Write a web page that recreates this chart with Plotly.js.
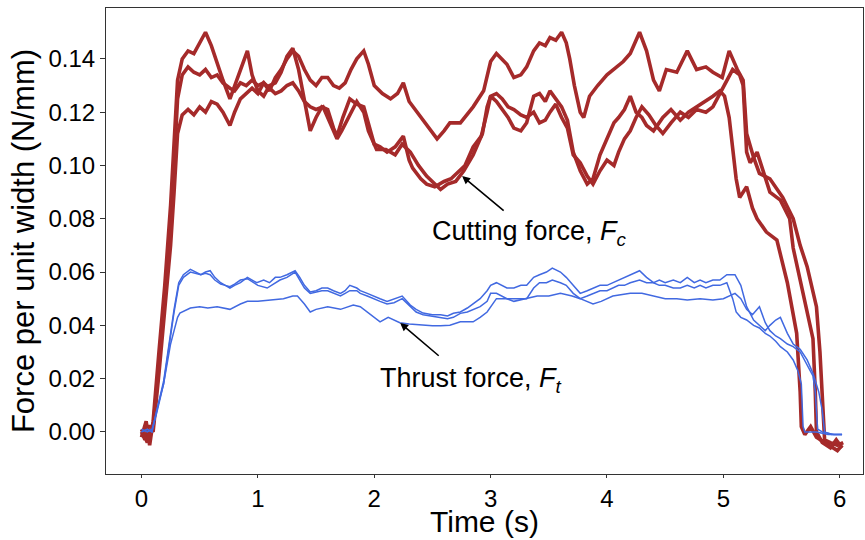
<!DOCTYPE html>
<html>
<head>
<meta charset="utf-8">
<script src="https://cdn.plot.ly/plotly-3.0.1.min.js"></script>
<style>html,body{margin:0;padding:0;background:#fff;}#chart{width:865px;height:540px;}</style>
</head>
<body>
<div id="chart"></div>
<script>
// ---- Cutting force traces (N/mm) ----
const tR1 = [0,0.03,0.06,0.1,0.15,0.2,0.25,0.28,0.31,0.35,0.4,0.45,0.5,0.55,0.6,0.65,0.7,0.76,0.8,0.85,0.9,0.95,1.0,1.05,1.1,1.15,1.2,1.25,1.3,1.35,1.4,1.45,1.5,1.55,1.6,1.65,1.7,1.75,1.8,1.85,1.91,1.95,2.0,2.07,2.14,2.2,2.25,2.3,2.37,2.45,2.54,2.6,2.65,2.74,2.8,2.85,2.94,3.0,3.05,3.1,3.14,3.2,3.26,3.31,3.37,3.42,3.47,3.51,3.56,3.61,3.65,3.68,3.72,3.77,3.8,3.85,3.92,4.0,4.08,4.14,4.2,4.28,4.34,4.4,4.45,4.51,4.6,4.69,4.77,4.85,4.91,4.99,5.05,5.12,5.17,5.2,5.26,5.31,5.4,5.51,5.6,5.66,5.72,5.8,5.83,5.85,5.87,5.92,5.98,6.03];
const vR1 = [0.000,-0.003,0.002,0.002,0.025,0.050,0.078,0.100,0.125,0.134,0.137,0.135,0.134,0.136,0.133,0.134,0.131,0.129,0.128,0.131,0.130,0.132,0.130,0.131,0.128,0.133,0.136,0.140,0.143,0.141,0.136,0.132,0.130,0.133,0.133,0.130,0.129,0.131,0.136,0.140,0.143,0.138,0.130,0.127,0.125,0.127,0.131,0.124,0.120,0.115,0.110,0.113,0.116,0.116,0.119,0.122,0.128,0.139,0.142,0.140,0.138,0.133,0.134,0.137,0.143,0.146,0.145,0.148,0.147,0.150,0.146,0.140,0.130,0.120,0.118,0.126,0.130,0.134,0.137,0.139,0.142,0.150,0.143,0.132,0.128,0.136,0.135,0.143,0.136,0.137,0.135,0.133,0.143,0.136,0.132,0.112,0.103,0.097,0.095,0.088,0.080,0.070,0.062,0.047,0.030,0.010,-0.003,-0.004,-0.005,-0.004];

const tR2 = [0,0.04,0.07,0.1,0.15,0.2,0.25,0.28,0.31,0.35,0.4,0.45,0.5,0.55,0.6,0.65,0.7,0.76,0.8,0.85,0.91,0.95,1.0,1.05,1.1,1.15,1.2,1.25,1.3,1.35,1.4,1.45,1.5,1.55,1.6,1.65,1.68,1.73,1.79,1.85,1.91,1.95,2.0,2.05,2.11,2.18,2.25,2.3,2.33,2.4,2.45,2.52,2.6,2.66,2.71,2.78,2.85,2.92,2.97,3.0,3.05,3.1,3.15,3.2,3.26,3.31,3.37,3.42,3.47,3.51,3.56,3.61,3.66,3.71,3.77,3.83,3.88,3.94,4.0,4.06,4.1,4.15,4.2,4.25,4.3,4.34,4.4,4.48,4.55,4.63,4.7,4.77,4.85,4.91,4.97,5.01,5.05,5.08,5.11,5.14,5.2,5.25,5.29,5.37,5.46,5.55,5.63,5.66,5.67,5.7,5.75,5.8,5.9,5.98,6.02];
const vR2 = [-0.002,0.004,-0.005,0.004,0.030,0.055,0.085,0.110,0.132,0.140,0.143,0.142,0.146,0.150,0.145,0.138,0.132,0.125,0.130,0.136,0.143,0.134,0.128,0.126,0.130,0.131,0.135,0.141,0.144,0.136,0.125,0.113,0.118,0.122,0.121,0.114,0.111,0.118,0.125,0.123,0.122,0.116,0.108,0.107,0.105,0.107,0.111,0.102,0.099,0.095,0.093,0.092,0.094,0.095,0.097,0.100,0.107,0.111,0.120,0.126,0.124,0.121,0.118,0.114,0.113,0.116,0.126,0.127,0.124,0.128,0.125,0.122,0.117,0.105,0.098,0.093,0.095,0.104,0.110,0.116,0.118,0.121,0.126,0.120,0.118,0.115,0.113,0.118,0.121,0.117,0.120,0.122,0.124,0.126,0.128,0.126,0.118,0.105,0.095,0.088,0.092,0.084,0.080,0.075,0.072,0.056,0.037,0.015,0.002,-0.001,0.002,-0.002,-0.005,-0.007,-0.005];

const tR3 = [0,0.05,0.08,0.1,0.15,0.2,0.25,0.28,0.31,0.35,0.4,0.45,0.5,0.55,0.6,0.65,0.7,0.76,0.8,0.85,0.9,0.95,1.0,1.05,1.1,1.15,1.2,1.25,1.3,1.35,1.4,1.45,1.5,1.56,1.62,1.68,1.72,1.79,1.85,1.91,1.95,2.02,2.1,2.18,2.24,2.31,2.38,2.45,2.5,2.57,2.63,2.7,2.77,2.85,2.93,2.97,3.0,3.05,3.1,3.15,3.2,3.26,3.31,3.37,3.42,3.47,3.51,3.56,3.61,3.66,3.71,3.77,3.83,3.88,3.94,4.0,4.06,4.1,4.15,4.2,4.25,4.3,4.36,4.42,4.48,4.55,4.63,4.7,4.77,4.85,4.91,4.97,5.03,5.08,5.14,5.17,5.2,5.23,5.29,5.34,5.4,5.49,5.57,5.6,5.68,5.77,5.79,5.8,5.85,5.92,5.97,6.02];
const vR3 = [0.001,-0.004,0.001,0.000,0.022,0.045,0.070,0.090,0.112,0.119,0.121,0.119,0.122,0.120,0.124,0.123,0.120,0.115,0.120,0.125,0.127,0.129,0.127,0.131,0.129,0.127,0.128,0.130,0.131,0.128,0.124,0.122,0.121,0.122,0.116,0.110,0.113,0.119,0.124,0.120,0.113,0.106,0.106,0.104,0.108,0.105,0.100,0.096,0.094,0.091,0.093,0.094,0.098,0.104,0.112,0.122,0.126,0.127,0.125,0.122,0.121,0.119,0.118,0.120,0.116,0.117,0.120,0.123,0.118,0.114,0.104,0.101,0.096,0.093,0.098,0.102,0.100,0.105,0.110,0.113,0.118,0.122,0.119,0.115,0.112,0.116,0.120,0.118,0.121,0.120,0.122,0.127,0.132,0.136,0.134,0.130,0.105,0.101,0.105,0.098,0.090,0.087,0.080,0.069,0.053,0.035,0.015,0.000,-0.004,-0.006,-0.003,-0.006];

// ---- Thrust force traces (N/mm) ----
const tB1 = [0,0.05,0.09,0.13,0.19,0.22,0.25,0.28,0.32,0.36,0.42,0.47,0.51,0.55,0.59,0.63,0.68,0.72,0.76,0.8,0.85,0.91,0.95,0.99,1.05,1.1,1.15,1.19,1.25,1.32,1.36,1.4,1.45,1.5,1.55,1.6,1.65,1.71,1.75,1.79,1.85,1.88,1.94,1.99,2.05,2.11,2.17,2.24,2.31,2.36,2.42,2.5,2.57,2.63,2.68,2.74,2.8,2.85,2.91,2.97,3.0,3.05,3.1,3.14,3.2,3.26,3.31,3.37,3.42,3.48,3.53,3.6,3.65,3.71,3.77,3.83,3.88,3.94,4.0,4.05,4.1,4.15,4.2,4.28,4.34,4.4,4.45,4.5,4.57,4.63,4.69,4.75,4.8,4.85,4.91,4.97,5.03,5.1,5.15,5.2,5.26,5.31,5.36,5.4,5.45,5.49,5.55,5.6,5.66,5.72,5.77,5.82,5.85,5.87,5.93,6.02];
const vB1 = [0.000,0.001,0.000,0.008,0.019,0.028,0.037,0.046,0.056,0.059,0.061,0.060,0.059,0.060,0.0605,0.058,0.056,0.055,0.054,0.055,0.056,0.058,0.057,0.056,0.057,0.056,0.058,0.058,0.059,0.0605,0.058,0.055,0.0525,0.053,0.054,0.054,0.053,0.052,0.053,0.055,0.054,0.053,0.052,0.051,0.050,0.049,0.050,0.051,0.0476,0.046,0.0446,0.044,0.044,0.0435,0.0445,0.045,0.0465,0.048,0.050,0.053,0.055,0.056,0.055,0.054,0.054,0.055,0.055,0.058,0.059,0.060,0.0615,0.060,0.058,0.055,0.052,0.053,0.054,0.055,0.055,0.056,0.057,0.058,0.059,0.0605,0.058,0.056,0.057,0.056,0.057,0.056,0.058,0.056,0.057,0.056,0.057,0.057,0.059,0.059,0.055,0.047,0.042,0.040,0.038,0.040,0.042,0.043,0.037,0.033,0.031,0.027,0.022,0.015,0.008,0.000,-0.001,-0.001];

const tB2 = [0,0.05,0.09,0.13,0.19,0.22,0.25,0.28,0.32,0.36,0.42,0.47,0.51,0.55,0.59,0.63,0.68,0.72,0.76,0.8,0.85,0.91,0.95,1.0,1.08,1.13,1.19,1.25,1.32,1.36,1.4,1.45,1.5,1.55,1.6,1.65,1.71,1.75,1.79,1.85,1.88,1.94,1.99,2.05,2.11,2.17,2.24,2.31,2.36,2.42,2.5,2.57,2.63,2.68,2.74,2.8,2.85,2.91,2.97,3.0,3.05,3.1,3.14,3.2,3.26,3.31,3.37,3.42,3.48,3.53,3.6,3.65,3.71,3.77,3.83,3.88,3.94,4.0,4.05,4.1,4.15,4.2,4.28,4.34,4.4,4.45,4.5,4.57,4.63,4.69,4.75,4.8,4.85,4.91,4.97,5.03,5.08,5.11,5.15,5.2,5.26,5.31,5.36,5.4,5.45,5.49,5.55,5.6,5.64,5.67,5.685,5.7,5.8,5.9,6.02];
const vB2 = [0.001,0.000,0.001,0.007,0.018,0.027,0.036,0.045,0.055,0.058,0.060,0.0595,0.059,0.0595,0.059,0.057,0.0555,0.055,0.0545,0.0555,0.057,0.0575,0.0565,0.055,0.054,0.0555,0.057,0.058,0.060,0.057,0.054,0.052,0.0525,0.053,0.053,0.052,0.051,0.052,0.053,0.053,0.052,0.051,0.050,0.049,0.048,0.0485,0.050,0.047,0.045,0.044,0.0435,0.043,0.0425,0.043,0.0445,0.045,0.046,0.047,0.049,0.052,0.052,0.051,0.050,0.050,0.050,0.050,0.054,0.056,0.056,0.057,0.056,0.055,0.052,0.050,0.051,0.052,0.053,0.053,0.054,0.055,0.055,0.056,0.057,0.056,0.056,0.055,0.055,0.054,0.054,0.055,0.054,0.055,0.054,0.055,0.055,0.056,0.050,0.045,0.043,0.042,0.040,0.039,0.037,0.036,0.034,0.032,0.030,0.027,0.023,0.018,0.002,0.000,0.000,-0.001,-0.001];

const tB3 = [0,0.05,0.09,0.13,0.19,0.22,0.25,0.28,0.31,0.33,0.42,0.5,0.57,0.65,0.76,0.85,0.91,1.0,1.13,1.22,1.3,1.34,1.4,1.45,1.5,1.6,1.71,1.79,1.82,1.88,1.94,2.05,2.12,2.22,2.3,2.42,2.5,2.57,2.65,2.74,2.85,2.91,2.97,3.05,3.14,3.2,3.31,3.4,3.5,3.6,3.7,3.77,3.88,3.95,4.05,4.2,4.3,4.4,4.5,4.6,4.69,4.8,4.91,5.0,5.05,5.1,5.15,5.2,5.25,5.31,5.36,5.4,5.45,5.49,5.55,5.6,5.66,5.72,5.77,5.79,5.81,5.85,5.95,6.02];
const vB3 = [0.000,0.001,0.000,0.008,0.018,0.026,0.033,0.038,0.043,0.0446,0.0465,0.047,0.0465,0.047,0.046,0.048,0.049,0.049,0.0495,0.050,0.051,0.051,0.048,0.045,0.046,0.047,0.046,0.047,0.0476,0.047,0.045,0.0413,0.043,0.041,0.0405,0.040,0.0398,0.0398,0.040,0.0413,0.0413,0.043,0.045,0.050,0.050,0.049,0.050,0.051,0.051,0.052,0.051,0.050,0.048,0.049,0.051,0.052,0.052,0.051,0.050,0.050,0.0495,0.050,0.0495,0.050,0.051,0.052,0.050,0.046,0.044,0.047,0.041,0.038,0.036,0.035,0.033,0.032,0.030,0.025,0.021,0.015,0.001,0.000,-0.001,-0.001];

const xTicks = [0,1,2,3,4,5,6];
const yTicks = [0.00,0.02,0.04,0.06,0.08,0.10,0.12,0.14];
const yTickText = ['0.00','0.02','0.04','0.06','0.08','0.10','0.12','0.14'];

const RED = '#a52a2a', BLUE = '#4169e1';
const FONT = 'Liberation Sans, Arial, sans-serif';

const traces = [];
[[tR1,vR1],[tR2,vR2],[tR3,vR3]].forEach(([t,v]) => traces.push({x:t,y:v,type:'scatter',mode:'lines',line:{color:RED,width:3.6},hoverinfo:'skip'}));
[[tB1,vB1],[tB2,vB2],[tB3,vB3]].forEach(([t,v]) => traces.push({x:t,y:v,type:'scatter',mode:'lines',line:{color:BLUE,width:1.5},hoverinfo:'skip'}));

const layout = {
  width:865, height:540,
  margin:{l:106,r:2,t:8,b:66},
  paper_bgcolor:'#fff', plot_bgcolor:'#fff',
  showlegend:false,
  font:{family:FONT,color:'#000'},
  xaxis:{range:[-0.305,6.2],tickvals:xTicks,ticktext:xTicks.map(String),showgrid:false,zeroline:false,
    showline:true,mirror:true,linecolor:'#333',linewidth:1,ticks:'outside',ticklen:3,tickcolor:'#333',
    tickfont:{size:24,family:FONT}},
  yaxis:{range:[-0.0158,0.1591],tickvals:yTicks,ticktext:yTickText,showgrid:false,zeroline:false,
    showline:true,mirror:true,linecolor:'#333',linewidth:1,ticks:'outside',ticklen:5,tickcolor:'#333',
    tickfont:{size:24,family:FONT},title:{text:'Force per unit width (N/mm)',font:{size:31,family:FONT},standoff:4}},
  annotations:[
    {x:0.5,y:-0.103,xref:'paper',yref:'paper',xanchor:'center',yanchor:'middle',showarrow:false,
     text:'Time (s)',font:{size:30,family:FONT,color:'#000'}},
    {x:2.481,y:0.0745,xref:'x',yref:'y',xanchor:'left',yanchor:'middle',showarrow:false,
     text:'Cutting force, <i>F</i><sub><i>c</i></sub>',font:{size:27,family:FONT,color:'#000'}},
    {x:2.034,y:0.0195,xref:'x',yref:'y',xanchor:'left',yanchor:'middle',showarrow:false,
     text:'Thrust force, <i>F</i><sub><i>t</i></sub>',font:{size:27,family:FONT,color:'#000'}},
    {x:2.755,y:0.096,ax:3.125,ay:0.0826,xref:'x',yref:'y',axref:'x',ayref:'y',text:'',showarrow:true,
     arrowhead:2,arrowsize:1,arrowwidth:1.6,arrowcolor:'#000',standoff:0,startstandoff:0},
    {x:2.223,y:0.0409,ax:2.567,ay:0.0281,xref:'x',yref:'y',axref:'x',ayref:'y',text:'',showarrow:true,
     arrowhead:2,arrowsize:1,arrowwidth:1.6,arrowcolor:'#000',standoff:0,startstandoff:0}
  ]
};
Plotly.newPlot('chart', traces, layout, {staticPlot:true, displayModeBar:false});
</script>
</body>
</html>
